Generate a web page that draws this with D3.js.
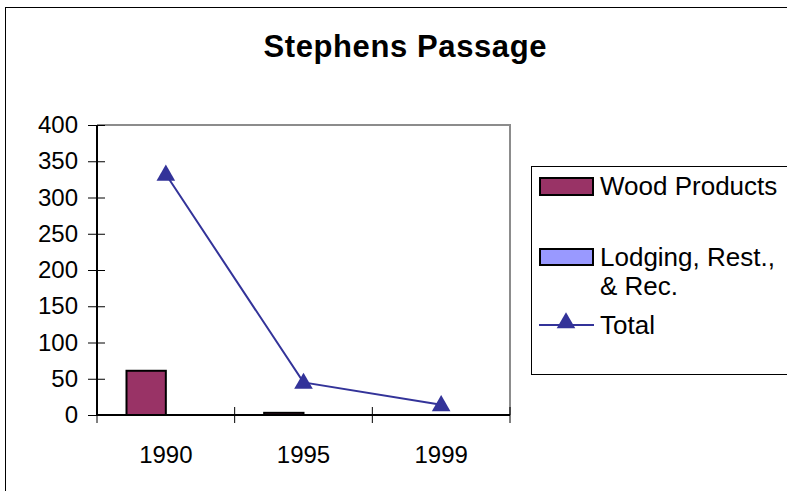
<!DOCTYPE html>
<html>
<head>
<meta charset="utf-8">
<script src="https://cdn.jsdelivr.net/npm/d3@7"></script>
<style>
  body { margin: 0; background: #fff; }
  text { font-family: "Liberation Sans", Arial, sans-serif; }
</style>
</head>
<body>
<svg id="chart" width="787" height="491"></svg>
<script>
// data
var years = ['1990', '1995', '1999']
var woodProducts = [61, 3, 0]
var lodging = [0, 0, 0]
var total = [332, 45, 14]
var yTicks = [0, 50, 100, 150, 200, 250, 300, 350, 400]

var svg = d3.select('#chart')
var pLeft = 97, pRight = 510, pTop = 125, pBottom = 415

// outer frame
svg.append('rect').attr('x', 5.5).attr('y', 7.5).attr('width', 800).attr('height', 500)
  .attr('fill', 'none').attr('stroke', '#000').attr('stroke-width', 1)

svg.append('text').attr('x', 405).attr('y', 57).attr('text-anchor', 'middle')
  .attr('font-size', 31).attr('font-weight', 'bold').attr('textLength', 283)
  .text('Stephens Passage')

var x = d3.scaleBand().domain(years).range([pLeft, pRight])
var y = d3.scaleLinear().domain([0, 400]).range([pBottom, pTop])
var bw = x.bandwidth() / 3.5

// plot area border (grey top/right)
svg.append('path').attr('d', 'M' + pLeft + ',' + pTop + 'H' + pRight + 'V' + pBottom)
  .attr('fill', 'none').attr('stroke', '#8c8c8c').attr('stroke-width', 2)

// bars
var series = [
  {name: 'Wood Products', vals: woodProducts, color: '#993366'},
  {name: 'Lodging, Rest., & Rec.', vals: lodging, color: '#9999ff'}
]
series.forEach(function(s, i) {
  svg.selectAll('.bar' + i).data(years).enter().append('rect')
    .filter(function(d, j) { return s.vals[j] > 0 })
    .attr('x', function(d) { return x(d) + x.bandwidth() / 2 - bw + i * bw })
    .attr('y', function(d) { return y(s.vals[years.indexOf(d)]) })
    .attr('width', bw)
    .attr('height', function(d) { return pBottom - y(s.vals[years.indexOf(d)]) })
    .attr('fill', s.color).attr('stroke', '#000').attr('stroke-width', 2)
})

// axes
var yAxis = svg.append('g').attr('transform', 'translate(' + pLeft + ',0)')
  .call(d3.axisLeft(y).tickValues(yTicks).tickSize(8).tickPadding(11))
yAxis.selectAll('.tick line').attr('x2', 8).attr('x1', -9)
yAxis.select('.domain').attr('d', 'M0,' + pTop + 'V' + pBottom).attr('stroke-width', 2)
yAxis.selectAll('text').attr('font-size', 24).attr('fill', '#000')
  .attr('font-family', '"Liberation Sans", Arial, sans-serif')

var xAxis = svg.append('g').attr('transform', 'translate(0,' + pBottom + ')')
  .call(d3.axisBottom(x).tickSize(0).tickPadding(31))
xAxis.select('.domain').attr('d', 'M' + pLeft + ',0H' + pRight).attr('stroke-width', 2)
xAxis.selectAll('text').attr('font-size', 24).attr('fill', '#000')
  .attr('font-family', '"Liberation Sans", Arial, sans-serif')
var edges = years.map(function(d) { return x(d) }).concat([pRight])
xAxis.selectAll('.edge').data(edges).enter().append('line')
  .attr('x1', function(d) { return d }).attr('x2', function(d) { return d })
  .attr('y1', -8).attr('y2', 8).attr('stroke', '#000')

// total line
var line = d3.line()
  .x(function(d, i) { return x(years[i]) + x.bandwidth() / 2 })
  .y(function(d) { return y(d) })
svg.append('path').datum(total).attr('d', line)
  .attr('fill', 'none').attr('stroke', '#333399').attr('stroke-width', 2)
var tri = d3.symbol().type(d3.symbolTriangle).size(150)
svg.selectAll('.mk').data(total).enter().append('path')
  .attr('d', tri)
  .attr('transform', function(d, i) { return 'translate(' + (x(years[i]) + x.bandwidth() / 2) + ',' + (y(d) + 1) + ')' })
  .attr('fill', '#333399')

// legend
var lg = svg.append('g')
lg.append('rect').attr('x', 531.5).attr('y', 166.5).attr('width', 270).attr('height', 208)
  .attr('fill', '#fff').attr('stroke', '#000')
lg.append('rect').attr('x', 540).attr('y', 178).attr('width', 53).attr('height', 17)
  .attr('fill', '#993366').attr('stroke', '#000').attr('stroke-width', 2)
lg.append('text').attr('x', 600).attr('y', 195).attr('font-size', 26).text('Wood Products')
lg.append('rect').attr('x', 540).attr('y', 249).attr('width', 53).attr('height', 16)
  .attr('fill', '#9999ff').attr('stroke', '#000').attr('stroke-width', 2)
lg.append('text').attr('x', 600).attr('y', 266).attr('font-size', 26).text('Lodging, Rest.,')
lg.append('text').attr('x', 600).attr('y', 295).attr('font-size', 26).text('& Rec.')
lg.append('line').attr('x1', 539).attr('x2', 594).attr('y1', 325).attr('y2', 325)
  .attr('stroke', '#333399').attr('stroke-width', 2)
lg.append('path').attr('d', tri).attr('transform', 'translate(566,323)').attr('fill', '#333399')
lg.append('text').attr('x', 600).attr('y', 334).attr('font-size', 26).text('Total')
</script>
</body>
</html>
